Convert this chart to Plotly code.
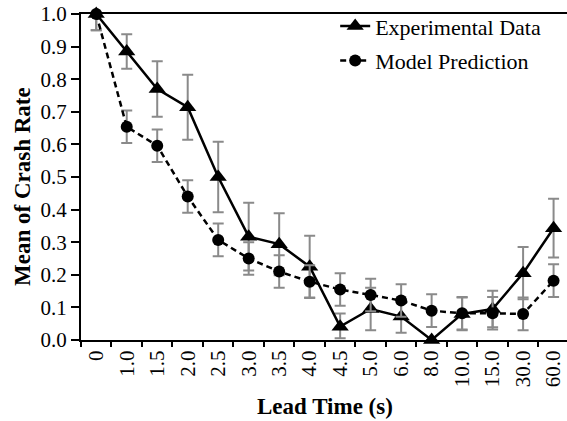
import plotly.graph_objects as go

lead_times = ["0", "1.0", "1.5", "2.0", "2.5", "3.0", "3.5", "4.0", "4.5",
              "5.0", "6.0", "8.0", "10.0", "15.0", "30.0", "60.0"]

exp_mean = [1.00, 0.885, 0.77, 0.714, 0.50, 0.317, 0.294, 0.225, 0.041,
            0.095, 0.072, 0.0, 0.08, 0.095, 0.205, 0.343]
exp_err_plus = [0.0, 0.053, 0.085, 0.10, 0.108, 0.104, 0.095, 0.095, 0.04,
                0.065, 0.05, 0.0, 0.05, 0.056, 0.08, 0.09]
exp_err_minus = [0.05, 0.053, 0.085, 0.10, 0.108, 0.104, 0.095, 0.095, 0.036,
                 0.065, 0.05, 0.0, 0.05, 0.056, 0.08, 0.09]

model_mean = [1.00, 0.654, 0.596, 0.44, 0.307, 0.25, 0.21, 0.179, 0.155,
              0.138, 0.121, 0.09, 0.082, 0.082, 0.08, 0.182]
model_err_plus = [0.0, 0.05, 0.05, 0.05, 0.05, 0.05, 0.05, 0.05, 0.05,
                  0.05, 0.05, 0.05, 0.05, 0.05, 0.05, 0.05]
model_err_minus = [0.05, 0.05, 0.05, 0.05, 0.05, 0.05, 0.05, 0.05, 0.05,
                   0.05, 0.05, 0.05, 0.05, 0.05, 0.05, 0.05]

FONT = "Liberation Serif"
ERR_COLOR = "#8a8a8a"

fig = go.Figure()
fig.add_trace(go.Scatter(
    x=lead_times, y=exp_mean, name="Experimental Data",
    mode="lines+markers", legendgroup="a",
    line=dict(color="black", width=2.5),
    marker=dict(symbol="triangle-up", size=15, color="black"),
    error_y=dict(type="data", symmetric=False, array=exp_err_plus,
                 arrayminus=exp_err_minus, color=ERR_COLOR, thickness=2, width=5.5),
    cliponaxis=False,
))
fig.add_trace(go.Scatter(
    x=lead_times, y=model_mean, name="Model Prediction",
    mode="lines+markers", legendgroup="b",
    line=dict(color="black", width=2.5, dash="6px,4px"),
    marker=dict(symbol="circle", size=12, color="black"),
    error_y=dict(type="data", symmetric=False, array=model_err_plus,
                 arrayminus=model_err_minus, color=ERR_COLOR, thickness=2, width=5.5),
    cliponaxis=False,
))

fig.update_layout(
    width=567, height=421,
    margin=dict(l=81, r=0, t=14, b=81),
    paper_bgcolor="white", plot_bgcolor="white",
    font=dict(family=FONT, size=21, color="black"),
    showlegend=True,
    legend=dict(x=0.523, y=1.027, xanchor="left", yanchor="top",
                bgcolor="rgba(0,0,0,0)", font=dict(size=22, family=FONT),
                traceorder="grouped", tracegroupgap=3),
    xaxis=dict(type="category", range=[-0.5, 15.44],
               showline=True, linecolor="black", linewidth=2, mirror=True,
               ticks="outside", tickson="boundaries", ticklen=5, tickwidth=1.5,
               tickcolor="black", tickangle=-90, showgrid=False,
               tickfont=dict(size=21, family=FONT)),
    yaxis=dict(range=[0, 1.0], dtick=0.1, tickformat=".1f",
               showline=True, linecolor="black", linewidth=2,
               ticks="outside", ticklen=8, tickwidth=1.5, tickcolor="black",
               showgrid=False, zeroline=False,
               tickfont=dict(size=21, family=FONT)),
    annotations=[
        dict(text="<b>Mean of Crash Rate</b>", xref="paper", yref="paper",
             x=-0.119, y=0.47, xanchor="center", yanchor="middle",
             textangle=-90, showarrow=False, font=dict(size=23, family=FONT)),
        dict(text="<b>Lead Time (s)</b>", xref="paper", yref="paper",
             x=0.5025, y=-0.2025, xanchor="center", yanchor="middle",
             showarrow=False, font=dict(size=23, family=FONT)),
    ],
)

fig.write_html("out.html")
